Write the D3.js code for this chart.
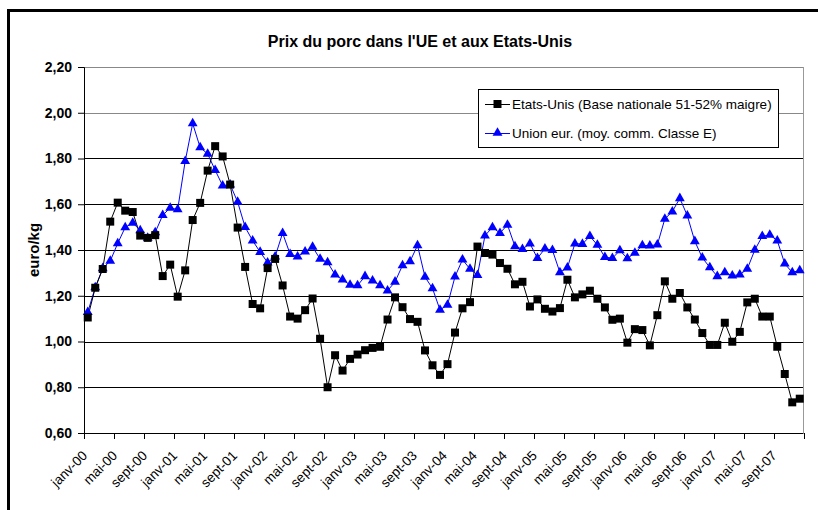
<!DOCTYPE html>
<html>
<head>
<meta charset="utf-8">
<script src="https://cdn.jsdelivr.net/npm/d3@7"></script>
<style>
body{margin:0;background:#fff;}
svg{display:block;font-family:Arial,"Liberation Sans",sans-serif;}
</style>
</head>
<body>
<svg id="chart" width="818" height="510"></svg>
<script>
const monthNames = ["janv","févr","mars","avr","mai","juin","juil","août","sept","oct","nov","déc"];
const years = ["00","01","02","03","04","05","06","07"];
const months = [];
years.forEach(y => monthNames.forEach(m => months.push(m + "-" + y)));

const usPrices = [
1.105,1.235,1.317,1.524,1.607,1.572,1.566,1.463,1.453,1.465,1.286,1.336,
1.196,1.311,1.531,1.606,1.747,1.854,1.809,1.686,1.498,1.326,1.164,1.145,
1.321,1.361,1.245,1.109,1.100,1.137,1.188,1.012,0.800,0.940,0.873,0.924,
0.943,0.962,0.972,0.977,1.096,1.193,1.150,1.098,1.086,0.961,0.896,0.854,
0.901,1.039,1.145,1.172,1.415,1.387,1.380,1.343,1.318,1.250,1.261,1.153,
1.184,1.143,1.131,1.146,1.270,1.193,1.206,1.222,1.187,1.149,1.095,1.100,
0.995,1.054,1.050,0.983,1.115,1.263,1.187,1.212,1.149,1.096,1.037,0.985,
0.985,1.082,0.999,1.042,1.171,1.187,1.109,1.109,0.977,0.858,0.734,0.750
];
const euPrices = [
1.128,1.236,1.320,1.352,1.429,1.499,1.518,1.486,1.453,1.477,1.552,1.584,
1.577,1.788,1.953,1.848,1.820,1.749,1.681,1.686,1.610,1.500,1.441,1.391,
1.345,1.371,1.474,1.382,1.371,1.393,1.413,1.361,1.346,1.292,1.270,1.247,
1.245,1.285,1.266,1.245,1.222,1.261,1.333,1.350,1.420,1.282,1.232,1.138,
1.160,1.283,1.358,1.317,1.290,1.463,1.499,1.474,1.510,1.416,1.404,1.428,
1.364,1.406,1.399,1.302,1.323,1.428,1.426,1.460,1.422,1.369,1.364,1.398,
1.363,1.387,1.420,1.419,1.423,1.536,1.568,1.626,1.550,1.438,1.366,1.324,
1.285,1.302,1.288,1.292,1.317,1.400,1.460,1.466,1.441,1.340,1.302,1.311
];
const yTicks = [0.6,0.8,1.0,1.2,1.4,1.6,1.8,2.0,2.2];
const seriesNames = ["Etats-Unis (Base nationale 51-52% maigre)","Union eur. (moy. comm. Classe E)"];
const titleText = "Prix du porc dans l'UE et aux Etats-Unis";
const yTitle = "euro/kg";

const svg = d3.select("#chart");
const L = 84, R = 803.5, T = 67, B = 433;

// outer border
svg.append("rect").attr("x",8.5).attr("y",10.5).attr("width",830).attr("height",520)
  .attr("fill","none").attr("stroke","#000").attr("stroke-width",3);

const x = d3.scaleBand().domain(months).range([L,R]).paddingInner(0).paddingOuter(0);
const y = d3.scaleLinear().domain([0.6,2.2]).range([B,T]);
const cx = m => x(m) + x.bandwidth()/2;

// gridlines
svg.append("g").selectAll("line").data(yTicks.filter(v=>v>0.6)).join("line")
  .attr("x1",L).attr("x2",R).attr("y1",d=>Math.round(y(d))+0.5).attr("y2",d=>Math.round(y(d))+0.5)
  .attr("stroke",d=>d>=2.0?"#888":"#000").attr("stroke-width",1);

// plot border right
svg.append("line").attr("x1",R).attr("x2",R).attr("y1",T).attr("y2",B).attr("stroke","#999");

// y axis
const fmt = d => d3.format(".2f")(d).replace(".",",");
const yAxis = svg.append("g").attr("transform",`translate(${L},0)`)
  .call(d3.axisLeft(y).tickValues(yTicks).tickFormat(fmt).tickSize(6).tickPadding(6));
yAxis.select(".domain").attr("stroke","#000");
yAxis.selectAll("text").attr("font-size","14px").attr("font-weight","bold").attr("fill","#000")
  .attr("font-family","Arial, 'Liberation Sans', sans-serif");

// x axis
const tickMonths = months.filter((m,i)=>i%4===0);
const xAxisG = svg.append("g").attr("transform",`translate(0,${B})`);
xAxisG.append("line").attr("x1",L).attr("x2",R).attr("y1",0.5).attr("y2",0.5).attr("stroke","#000");
const tickPos = d3.range(0,months.length+1,4).map(i => i<months.length ? x(months[i]) : R);
xAxisG.selectAll("line.tk").data(tickPos).join("line").attr("class","tk")
  .attr("x1",d=>Math.round(d)+0.5).attr("x2",d=>Math.round(d)+0.5).attr("y1",0).attr("y2",6).attr("stroke","#000");
xAxisG.selectAll("text").data(tickMonths).join("text")
  .attr("transform",d=>`translate(${cx(d)-3},${20}) rotate(-45)`)
  .attr("text-anchor","end").attr("font-size","13.5px").attr("fill","#000")
  .attr("dy","0.35em")
  .text(d=>d);

// title
svg.append("text").attr("x",420).attr("y",47).attr("text-anchor","middle")
  .attr("font-size","16px").attr("font-weight","bold").text(titleText);
svg.append("text").attr("transform",`translate(39,250) rotate(-90)`).attr("text-anchor","middle")
  .attr("font-size","15px").attr("font-weight","bold").text(yTitle);

// lines
const line = d3.line().x((d,i)=>cx(months[i])).y(d=>y(d));
svg.append("path").datum(euPrices).attr("d",line).attr("fill","none").attr("stroke","#0000FF").attr("stroke-width",1);
svg.append("path").datum(usPrices).attr("d",line).attr("fill","none").attr("stroke","#000").attr("stroke-width",1);

const tri = d3.symbol().type(d3.symbolTriangle).size(42);
const sq = d3.symbol().type(d3.symbolSquare).size(64);
svg.append("g").selectAll("path").data(euPrices).join("path")
  .attr("d",tri).attr("transform",(d,i)=>`translate(${cx(months[i])},${y(d)})`).attr("fill","#0000FF");
svg.append("g").selectAll("path").data(usPrices).join("path")
  .attr("d",sq).attr("transform",(d,i)=>`translate(${cx(months[i])},${y(d)})`).attr("fill","#000");

// legend
const lg = svg.append("g");
lg.append("rect").attr("x",478.5).attr("y",89.5).attr("width",300).attr("height",58)
  .attr("fill","#fff").attr("stroke","#000");
const legendItems = [{name:seriesNames[0],color:"#000",sym:sq,yy:104},{name:seriesNames[1],color:"#0000FF",sym:tri,yy:133}];
legendItems.forEach(it=>{
  lg.append("line").attr("x1",485).attr("x2",510).attr("y1",it.yy+0.5).attr("y2",it.yy+0.5).attr("stroke",it.color);
  lg.append("path").attr("d",it.sym).attr("transform",`translate(497.5,${it.yy})`).attr("fill",it.color);
  lg.append("text").attr("x",512).attr("y",it.yy).attr("dy","0.35em").attr("font-size","13.5px").text(it.name);
});
</script>
</body>
</html>
